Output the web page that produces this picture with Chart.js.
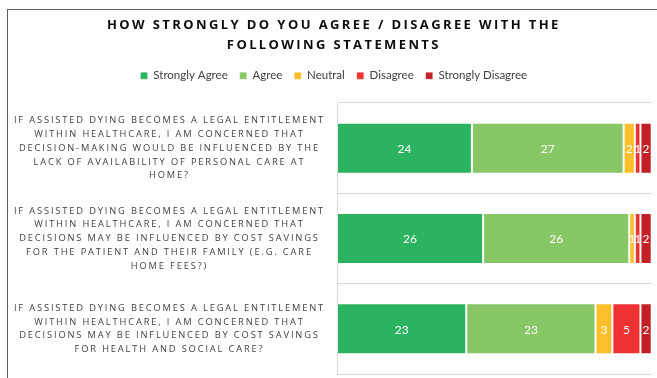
<!DOCTYPE html>
<html>
<head>
<meta charset="utf-8">
<script src="https://cdn.jsdelivr.net/npm/chart.js@4.4.0/dist/chart.umd.min.js"></script>
<style>
  html, body { margin: 0; padding: 0; background: #fff; overflow: hidden; }
  #wrap { position: relative; width: 657px; height: 378px; }
  #frame { position: absolute; left: 7px; top: 8.5px; width: 700px; height: 400px;
           border-left: 1.5px solid #5f5f5f; border-top: 1.5px solid #5f5f5f; pointer-events: none; }
  canvas { position: absolute; left: 0; top: 0; }
</style>
</head>
<body>
<div id="wrap">
  <canvas id="chart" width="657" height="378"></canvas>
  <div id="frame"></div>
</div>
<script>
// Survey statements (one per row, pre-wrapped into lines)
const statements = [
  ['IF ASSISTED DYING BECOMES A LEGAL ENTITLEMENT', 'WITHIN HEALTHCARE, I AM CONCERNED THAT',
   'DECISION-MAKING WOULD BE INFLUENCED BY THE', 'LACK OF AVAILABILITY OF PERSONAL CARE AT', 'HOME?'],
  ['IF ASSISTED DYING BECOMES A LEGAL ENTITLEMENT', 'WITHIN HEALTHCARE, I AM CONCERNED THAT',
   'DECISIONS MAY BE INFLUENCED BY COST SAVINGS', 'FOR THE PATIENT AND THEIR FAMILY (E.G. CARE', 'HOME FEES?)'],
  ['IF ASSISTED DYING BECOMES A LEGAL ENTITLEMENT', 'WITHIN HEALTHCARE, I AM CONCERNED THAT',
   'DECISIONS MAY BE INFLUENCED BY COST SAVINGS', 'FOR HEALTH AND SOCIAL CARE?']
];

// Response counts per statement
const stronglyAgree    = [24, 26, 23];
const agree            = [27, 26, 23];
const neutral          = [2, 1, 3];
const disagree         = [1, 1, 5];
const stronglyDisagree = [2, 2, 2];

const titleLines = ['HOW STRONGLY DO YOU AGREE / DISAGREE WITH THE', 'FOLLOWING STATEMENTS'];

const series = [
  { label: 'Strongly Agree',    data: stronglyAgree,    color: '#2cb35f' },
  { label: 'Agree',             data: agree,            color: '#88c765' },
  { label: 'Neutral',           data: neutral,          color: '#fdbf2c' },
  { label: 'Disagree',          data: disagree,         color: '#ee3133' },
  { label: 'Strongly Disagree', data: stronglyDisagree, color: '#c21f27' }
];

// Every row sums to the same number of respondents; the axis spans that total
const rowTotals = statements.map((_, i) => series.reduce((s, d) => s + d.data[i], 0));
const axisMax = Math.max(...rowTotals);

// Title drawn with extra letter spacing
function withSpacing(obj, method, spacing) {
  if (!obj || obj['__spaced_' + method]) return;
  const orig = obj[method];
  obj[method] = function (...args) {
    const c = this.ctx;
    const prev = c.letterSpacing;
    c.letterSpacing = spacing;
    try { return orig.apply(this, args); }
    finally { c.letterSpacing = prev; }
  };
  obj['__spaced_' + method] = true;
}

const spacedTitle = {
  id: 'spacedTitle',
  beforeDraw(chart) { withSpacing(chart.titleBlock, 'draw', '2.4px'); }
};

// Category labels: centred, letter-spaced text blocks beside each bar
const statementLabels = {
  id: 'statementLabels',
  afterDraw(chart) {
    const { ctx } = chart;
    const yScale = chart.scales.y;
    const cx = yScale.left + (yScale.width - 14) / 2;
    const lh = 13.7;
    ctx.save();
    ctx.fillStyle = '#3f3f3f';
    ctx.textAlign = 'center';
    ctx.textBaseline = 'middle';
    statements.forEach((lines, i) => {
      const cy = yScale.getPixelForValue(i);
      const y0 = cy - (lines.length - 1) * lh / 2;
      lines.forEach((text, k) => {
        ctx.font = '9.3px "Open Sans"';
        ctx.letterSpacing = '1.85px';
        ctx.fillText(text, cx, y0 + k * lh);
      });
    });
    ctx.letterSpacing = '0px';
    ctx.restore();
  }
};

// Count written in the middle of each segment
const valueLabels = {
  id: 'valueLabels',
  afterDatasetsDraw(chart) {
    const { ctx } = chart;
    ctx.save();
    ctx.font = '12px Lato';
    ctx.fillStyle = '#ffffff';
    ctx.textAlign = 'center';
    ctx.textBaseline = 'middle';
    chart.data.datasets.forEach((ds, i) => {
      const meta = chart.getDatasetMeta(i);
      meta.data.forEach((bar, j) => {
        const p = bar.getCenterPoint();
        ctx.fillText(String(ds.data[j]), p.x, p.y + 1);
      });
    });
    ctx.restore();
  }
};

new Chart(document.getElementById('chart'), {
  type: 'bar',
  data: {
    labels: statements,
    datasets: series.map(s => ({
      label: s.label,
      data: s.data,
      backgroundColor: s.color,
      borderColor: 'rgba(255,255,255,0.3)',
      borderWidth: 1,
      borderSkipped: false,
      categoryPercentage: 1,
      barPercentage: 0.565
    }))
  },
  options: {
    indexAxis: 'y',
    responsive: false,
    animation: false,
    layout: { padding: { left: 16, right: 5.3, top: 0, bottom: 4 } },
    scales: {
      x: {
        stacked: true,
        min: 0,
        max: axisMax,
        position: 'top',
        ticks: { display: false },
        grid: { display: false, drawTicks: false },
        border: { display: false },
        afterFit(scale) { scale.height = 11.5; }
      },
      y: {
        stacked: true,
        grid: { color: '#d9d9d9', lineWidth: 1, offset: true, drawTicks: false },
        border: { color: '#d9d9d9', width: 1 },
        ticks: { display: false },
        afterFit(scale) {
          scale.width = 337 - 16;
          scale.paddingTop = 0;
          scale.paddingBottom = 0;
        }
      }
    },
    plugins: {
      title: {
        display: true,
        text: titleLines,
        color: '#0d0d0d',
        font: { family: 'Open Sans', size: 13, weight: 'bold', lineHeight: 20 / 13 },
        padding: { top: 15, bottom: 3 }
      },
      legend: {
        labels: {
          boxWidth: 7,
          boxHeight: 7,
          padding: 12,
          color: '#404040',
          font: { family: 'Lato', size: 11.5 }
        }
      },
      tooltip: { enabled: false }
    }
  },
  plugins: [spacedTitle, statementLabels, valueLabels]
});
</script>
</body>
</html>
